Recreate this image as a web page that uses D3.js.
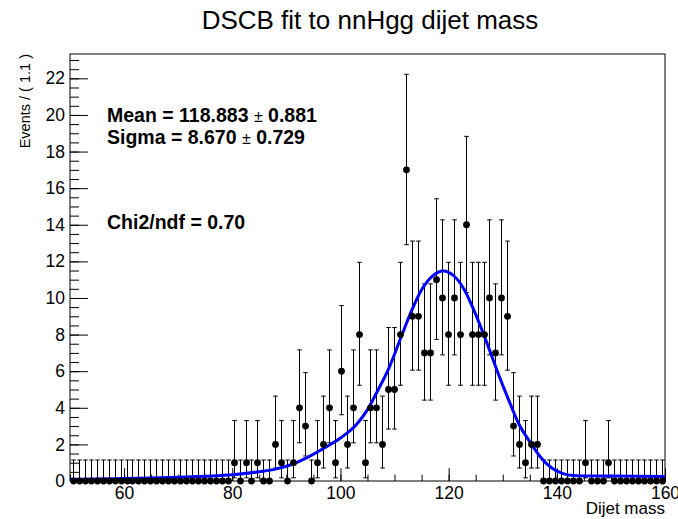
<!DOCTYPE html>
<html>
<head>
<meta charset="utf-8">
<script src="https://cdn.jsdelivr.net/npm/d3@7"></script>
<style>
  html, body { margin: 0; padding: 0; background: #fff; }
  svg { display: block; font-family: "Liberation Sans", Arial, Helvetica, sans-serif; }
</style>
</head>
<body>
<svg id="chart" width="678" height="519"></svg>
<script>
// ---- data ----
const xRange = [50, 160];
const binWidth = 1.1;
const counts = [
  0,0,0,0,0,0,0,0,0,0, 0,0,0,0,0,0,0,0,0,0, 0,0,0,0,0,0,0,
  1,0,1,0,1,0,0,2,1,0,1,4,3,0,1,2,4,1,6,2,4,8,1,4,4,2,5,5,8,17,9,9,7,7,
  11,10,8,10,8,14,8,8,8,10,7,10,9,3,2,1,2,2,
  0,0,0,0,0,0,0,1,0,0,0,1,0,0,0,0,0,0,0,0,0
];
// Poisson (68%) error bounds used by the plot, keyed by count
const errLow  = {0:0, 1:0.173, 2:0.708, 3:1.367, 4:2.086, 5:2.840, 6:3.620, 7:4.419, 8:5.232, 9:6.057, 10:6.891, 11:7.734, 14:10.30, 17:12.91};
const errHigh = {0:1.148, 1:3.300, 2:4.638, 3:5.918, 4:7.163, 5:8.382, 6:9.584, 7:10.77, 8:11.95, 9:13.11, 10:14.27, 11:15.42, 14:18.83, 17:22.22};
// fitted curve
const fitX = [50, 55, 60, 65, 70, 75, 80, 85, 88, 91, 94, 97, 100, 103, 105, 107, 109, 111, 113, 115, 117, 119, 121, 123, 125, 127, 129, 131, 133, 135, 137, 139, 141, 143, 145, 150, 155, 160];
const fitY = [0.09, 0.11, 0.13, 0.16, 0.20, 0.26, 0.34, 0.51, 0.65, 0.90, 1.30, 1.80, 2.35, 3.10, 3.90, 5.00, 6.20, 7.70, 9.20, 10.45, 11.20, 11.48, 11.20, 10.40, 9.10, 7.60, 6.00, 4.50, 3.10, 2.15, 1.30, 0.72, 0.42, 0.30, 0.28, 0.27, 0.26, 0.25];
const xTickValues = [60, 80, 100, 120, 140, 160];
const yTickValues = [0, 2, 4, 6, 8, 10, 12, 14, 16, 18, 20, 22];
const yMax = 23.33;
const titleText = "DSCB fit to nnHgg dijet mass";
const xLabel = "Dijet mass";
const yLabel = "Events / ( 1.1 )";
const statLines = [
  {label: "Mean = 118.883", err: "0.881"},
  {label: "Sigma = 8.670", err: "0.729"}
];
const chiText = "Chi2/ndf = 0.70";

// ---- layout ----
const L = 70, R = 665, T = 54, B = 481;
const svg = d3.select("#chart");
const x = d3.scaleLinear().domain(xRange).range([L, R]);
const y = d3.scaleLinear().domain([0, yMax]).range([B, T]);

// title
svg.append("text").attr("x", 370).attr("y", 29).attr("text-anchor", "middle")
  .attr("font-size", 26).attr("fill", "#000").text(titleText);

// frame
svg.append("rect").attr("x", L).attr("y", T).attr("width", R - L).attr("height", B - T)
  .attr("fill", "none").attr("stroke", "#000").attr("stroke-width", 1);

// x axis ticks
const xMinor = d3.range(50, 160.001, 5);
svg.append("g").attr("transform", `translate(0,${B})`)
  .call(d3.axisBottom(x).tickValues(xMinor).tickSizeInner(-6.4).tickSizeOuter(0).tickFormat(""))
  .call(g => g.select(".domain").remove());
const gx = svg.append("g").attr("transform", `translate(0,${B})`)
  .call(d3.axisBottom(x).tickValues(xTickValues).tickSizeInner(-12.8).tickSizeOuter(0).tickPadding(6).tickFormat(d3.format("d")));
gx.select(".domain").remove();
gx.selectAll("text").attr("font-size", 17.5).attr("fill", "#000").attr("font-family", null);

// y axis ticks
const yMinor = d3.range(0, yMax, 0.5);
svg.append("g").attr("transform", `translate(${L},0)`)
  .call(d3.axisLeft(y).tickValues(yMinor).tickSizeInner(-9).tickSizeOuter(0).tickFormat(""))
  .call(g => g.select(".domain").remove());
const gy = svg.append("g").attr("transform", `translate(${L},0)`)
  .call(d3.axisLeft(y).tickValues(yTickValues).tickSizeInner(-17.9).tickSizeOuter(0).tickPadding(5).tickFormat(d3.format("d")));
gy.select(".domain").remove();
gy.selectAll("text").attr("font-size", 17.5).attr("fill", "#000").attr("font-family", null);

// axis titles
svg.append("text").attr("x", R).attr("y", 514).attr("text-anchor", "end")
  .attr("font-size", 17).attr("fill", "#000").text(xLabel);
svg.append("text").attr("transform", `translate(30,${T}) rotate(-90)`).attr("text-anchor", "end")
  .attr("font-size", 14.5).attr("fill", "#000").text(yLabel);

// data points with error bars
const pts = counts.map((c, i) => ({xc: xRange[0] + (i + 0.5) * binWidth, c}));
const eb = svg.append("g").attr("stroke", "#000").attr("stroke-width", 1);
pts.forEach(p => {
  const px = Math.round(x(p.xc)) + 0.5;
  const y1 = y(errLow[p.c]), y2 = y(errHigh[p.c]);
  eb.append("line").attr("x1", px).attr("x2", px).attr("y1", y1).attr("y2", y2);
  eb.append("line").attr("x1", px - 2.3).attr("x2", px + 2.3).attr("y1", y2).attr("y2", y2);
  if (p.c > 0) eb.append("line").attr("x1", px - 2.3).attr("x2", px + 2.3).attr("y1", y1).attr("y2", y1);
});

// fit curve
const line = d3.line().x((d, i) => x(fitX[i])).y(d => y(d)).curve(d3.curveMonotoneX);
svg.append("path").attr("d", line(fitY)).attr("fill", "none")
  .attr("stroke", "#0000ff").attr("stroke-width", 3);

svg.append("g").selectAll("circle").data(pts).join("circle")
  .attr("cx", d => Math.round(x(d.xc)) + 0.5).attr("cy", d => y(d.c)).attr("r", 3.4).attr("fill", "#000");

// stats text
const statY = [122, 144];
statLines.forEach((s, i) => {
  const t = svg.append("text").attr("x", 107).attr("y", statY[i]).attr("font-size", 19.5)
    .attr("font-weight", "bold").attr("fill", "#000");
  t.append("tspan").text(s.label + "  ");
  t.append("tspan").attr("font-weight", "normal").attr("font-size", 16).text("\u00B1");
  t.append("tspan").text(" " + s.err);
});
svg.append("text").attr("x", 107).attr("y", 229).attr("font-size", 19.5)
  .attr("font-weight", "bold").attr("fill", "#000").text(chiText);
</script>
</body>
</html>
